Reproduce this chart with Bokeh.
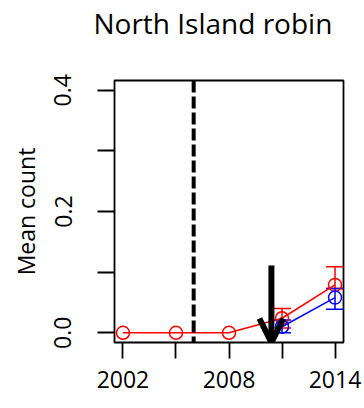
from bokeh.plotting import figure
from bokeh.models import Range1d, FixedTicker, Whisker, TeeHead, ColumnDataSource, Span, Arrow, OpenHead, Title
from bokeh.embed import file_html
from bokeh.resources import INLINE

# ---- data ----
title_text = "North Island robin"
y_label = "Mean count"
x_ticks = [2002, 2005, 2008, 2011, 2014]
x_tick_labels = ["2002", "", "2008", "", "2014"]
y_ticks = [0.0, 0.1, 0.2, 0.3, 0.4]
y_tick_labels = ["0.0", "", "0.2", "", "0.4"]

red_years = [2002, 2005, 2008, 2011, 2014]
red_mean = [0.0, 0.0, 0.0, 0.024, 0.079]
red_err_years = [2011, 2014]
red_lower = [0.008, 0.073]
red_upper = [0.040, 0.109]

blue_years = [2011, 2014]
blue_mean = [0.010, 0.058]
blue_lower = [0.0, 0.039]
blue_upper = [0.021, 0.073]

intervention_year = 2006
arrow_year = 2010.4
arrow_top = 0.111
arrow_bottom = -0.016

FONT = "Open Sans"
RED = "#FF0000"
BLUE = "#0000FF"

p = figure(width=364, height=408, output_backend="svg", toolbar_location=None,
           x_range=Range1d(2001.52, 2014.48), y_range=Range1d(-0.016, 0.416),
           min_border_left=114, min_border_right=21, min_border_top=80, min_border_bottom=66)
p.grid.visible = False
p.outline_line_color = "black"
p.outline_line_width = 1.8
p.background_fill_color = "white"
p.border_fill_color = "white"

# spacer panel nearest the frame, then the real title above it
p.add_layout(Title(text=" ", text_font=FONT, text_font_size="10px", standoff=21), "above")
p.add_layout(Title(text=title_text, text_font=FONT, text_font_size="28px", text_font_style="normal",
                   text_color="black", align="left", offset=-21, vertical_align="top",
                   standoff=0), "above")

xa = p.xaxis[0]
xa.ticker = FixedTicker(ticks=x_ticks)
xa.major_label_overrides = {t: l for t, l in zip(x_ticks, x_tick_labels)}
xa.minor_tick_line_color = None
xa.major_tick_in = 0
xa.major_tick_out = 16
xa.major_tick_line_width = 1.8
xa.major_tick_line_color = "black"
xa.axis_line_color = None
xa.major_label_text_font = FONT
xa.major_label_text_font_size = "23px"
xa.major_label_text_color = "black"
xa.major_label_standoff = 12

ya = p.yaxis[0]
ya.ticker = FixedTicker(ticks=y_ticks)
ya.major_label_overrides = {t: l for t, l in zip(y_ticks, y_tick_labels)}
ya.minor_tick_line_color = None
ya.major_tick_in = 0
ya.major_tick_out = 17
ya.major_tick_line_width = 1.8
ya.major_tick_line_color = "black"
ya.axis_line_color = None
ya.major_label_text_font = FONT
ya.major_label_text_font_size = "23px"
ya.major_label_text_color = "black"
ya.major_label_orientation = "vertical"
ya.major_label_standoff = 26
ya.axis_label = y_label
ya.axis_label_text_font = FONT
ya.axis_label_text_font_size = "23px"
ya.axis_label_text_font_style = "normal"
ya.axis_label_text_color = "black"
ya.axis_label_standoff = 10

# red series
p.line(red_years, red_mean, line_color=RED, line_width=1.5)
p.scatter(red_years, red_mean, marker="circle", size=13, fill_color=None,
          line_color=RED, line_width=1.5)
rsrc = ColumnDataSource(dict(x=red_err_years, lo=red_lower, hi=red_upper))
p.add_layout(Whisker(source=rsrc, base="x", lower="lo", upper="hi", line_color=RED, line_width=1.5,
                     lower_head=TeeHead(size=18, line_color=RED, line_width=1.5),
                     upper_head=TeeHead(size=18, line_color=RED, line_width=1.5)))

# blue series
p.line(blue_years, blue_mean, line_color=BLUE, line_width=1.5)
p.scatter(blue_years, blue_mean, marker="circle", size=13, fill_color=None,
          line_color=BLUE, line_width=1.5)
bsrc = ColumnDataSource(dict(x=blue_years, lo=blue_lower, hi=blue_upper))
p.add_layout(Whisker(source=bsrc, base="x", lower="lo", upper="hi", line_color=BLUE, line_width=1.5,
                     lower_head=TeeHead(size=18, line_color=BLUE, line_width=1.5),
                     upper_head=TeeHead(size=18, line_color=BLUE, line_width=1.5)))

p.add_layout(Span(location=intervention_year, dimension="height", line_color="black",
                  line_width=4, line_dash="12 4"))

p.add_layout(Arrow(end=OpenHead(size=24, line_width=6, line_color="black"),
                   x_start=arrow_year, y_start=arrow_top, x_end=arrow_year, y_end=arrow_bottom,
                   line_width=6, line_color="black"))

open("out.html", "w").write(file_html(p, INLINE))
